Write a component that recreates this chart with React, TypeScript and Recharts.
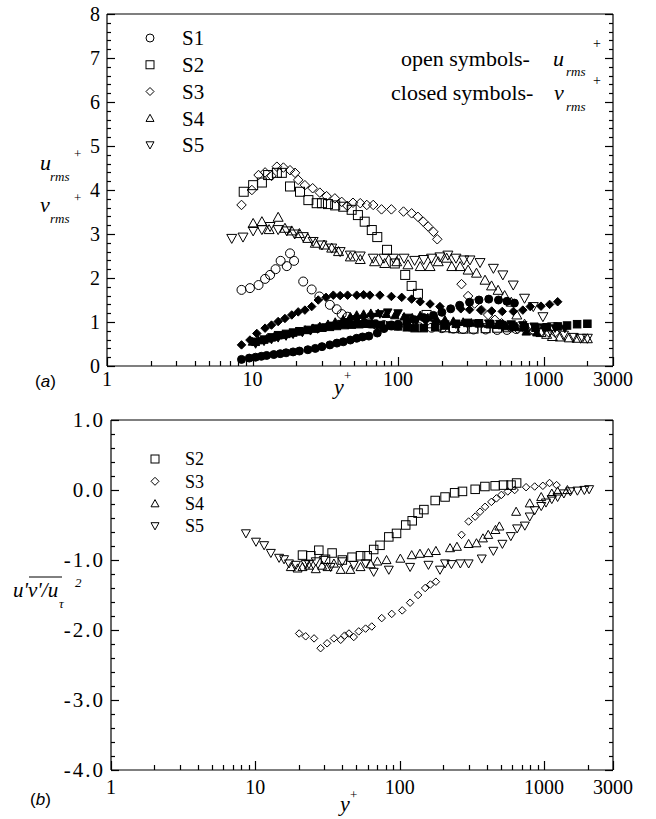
import React from 'react';
import { ScatterChart, Scatter, XAxis, YAxis, Legend } from 'recharts';

const SERIF = 'Liberation Serif, DejaVu Serif, serif';
const SANS = 'Liberation Sans, Arial, sans-serif';

// ---------- ticks ----------
const xMajorTicks = [1, 10, 100, 1000, 3000];
const xTickLabels = ['1', '10', '100', '1000', '3000'];
const xMinorTicks = [2, 3, 4, 5, 6, 7, 8, 9, 20, 30, 40, 50, 60, 70, 80, 90, 200, 300, 400, 500, 600, 700, 800, 900, 2000];
const xAllTicks = [...xMajorTicks, ...xMinorTicks].sort((a, b) => a - b);

const yMajorTicksA = [0, 1, 2, 3, 4, 5, 6, 7, 8];
const yTickLabelsA = ['0', '1', '2', '3', '4', '5', '6', '7', '8'];
const yMajorTicksB = [-4, -3, -2, -1, 0, 1];
const yTickLabelsB = ['-4.0', '-3.0', '-2.0', '-1.0', '0.0', '1.0'];

const withMinor = (majors: number[], steps: number) => {
  const out: number[] = [];
  for (let i = 0; i < majors.length; i++) {
    out.push(majors[i]);
    if (i < majors.length - 1) {
      for (let k = 1; k < steps; k++) out.push(+(majors[i] + (k * (majors[i + 1] - majors[i])) / steps).toFixed(4));
    }
  }
  return out;
};
const yAllTicksA = withMinor(yMajorTicksA, 5);
const yAllTicksB = withMinor(yMajorTicksB, 5);

// ---------- panel (a) data: [y+, value] ----------
const s1U = [[8.4,1.73],[9.6,1.77],[11,1.84],[12.2,1.98],[13.2,2.07],[14.4,2.2],[15.6,2.39],[17.2,2.27],[18.1,2.56],[19.3,2.39],[22.3,1.92],[25.5,1.74],[28.8,1.58],[34,1.39],[37.9,1.29],[41,1.18],[45,1.12],[50,1.05],[56,1.0],[63,0.97],[70,0.95],[80,0.93],[90,0.92],[100,0.92],[120,0.9],[140,0.88],[170,0.87],[200,0.86],[240,0.85],[280,0.84],[330,0.83],[400,0.83],[480,0.82],[560,0.82],[650,0.84]];
const s1V = [[8.4,0.15],[9.5,0.18],[10.5,0.2],[11.5,0.22],[12.5,0.24],[14,0.26],[15.5,0.28],[17,0.3],[19,0.32],[21,0.34],[24,0.37],[27,0.4],[30,0.44],[34,0.48],[38,0.52],[42,0.55],[47,0.59],[52,0.63],[57,0.66],[63,0.68],[72,0.75],[80,0.85],[90,0.92],[100,0.95],[115,1.0],[130,1.05],[150,1.1],[175,1.15],[200,1.22],[230,1.3],[265,1.38],[310,1.45],[360,1.5],[420,1.52],[490,1.5],[560,1.47],[630,1.43]];
const s2U = [[8.7,3.96],[10.1,4.11],[11.6,4.17],[12.8,4.34],[14.7,4.39],[15.9,4.39],[18.1,4.08],[21.2,3.96],[24.2,3.77],[27.6,3.7],[30,3.7],[33,3.68],[37,3.65],[42,3.62],[48,3.55],[53,3.43],[59,3.28],[66,3.09],[72,2.93],[84,2.64],[95,2.33],[112,2.07],[124,1.82],[137,1.64],[157,1.16],[166,0.97],[185,0.92],[210,0.88],[240,0.86],[280,0.85],[330,0.85],[400,0.86],[480,0.87],[570,0.88]];
const s2V = [[10.5,0.55],[12,0.6],[13.5,0.65],[15,0.7],[17,0.73],[19,0.76],[21,0.79],[24,0.82],[27,0.85],[30,0.87],[34,0.89],[38,0.91],[43,0.93],[48,0.94],[54,0.95],[60,0.96],[68,0.95],[76,0.93],[88,0.92],[100,0.9],[115,0.88],[130,0.86],[150,0.86],[180,0.88],[210,0.92],[250,0.96],[300,0.98],[360,0.97],[430,0.95],[520,0.93],[620,0.9],[740,0.88],[880,0.87],[1050,0.88],[1250,0.9],[1450,0.92],[1700,0.95],[2000,0.96]];
const s3U = [[8.4,3.66],[9.9,4.0],[11,4.34],[12.2,4.4],[13.5,4.32],[14.7,4.53],[16.3,4.51],[18.1,4.45],[19.6,4.39],[20.6,4.23],[22.9,4.11],[25.9,4.04],[29,3.94],[32.3,3.86],[36.8,3.81],[41,3.73],[44.8,3.64],[49,3.71],[55,3.7],[61,3.66],[67.5,3.66],[77,3.56],[90,3.56],[109,3.51],[124,3.47],[137,3.39],[149,3.28],[161,3.17],[175,3.05],[186,2.88],[273,1.86],[303,1.59],[336,1.42],[375,1.27],[416,1.16],[463,1.05],[514,0.97],[583,0.89],[660,0.85],[750,0.82],[850,0.8],[960,0.78],[1080,0.77],[1200,0.76]];
const s3V = [[8.4,0.48],[9.6,0.59],[10.7,0.74],[12.2,0.86],[13.5,0.93],[15,1.01],[16.7,1.08],[18.6,1.16],[20.6,1.23],[22.9,1.27],[25.5,1.35],[28.3,1.5],[32,1.56],[35.9,1.61],[40,1.6],[45,1.61],[52,1.61],[58,1.62],[64,1.61],[75,1.61],[90,1.58],[106,1.56],[124,1.52],[142,1.46],[166,1.41],[194,1.35],[270,1.3],[310,1.28],[370,1.27],[440,1.25],[520,1.24],[620,1.24],[720,1.27],[810,1.35],[960,1.36],[1100,1.4],[1250,1.46]];
const s4U = [[10.1,3.24],[11.6,3.28],[13,3.1],[15,3.38],[16.7,3.13],[18.6,3.07],[21,3.01],[24,2.9],[27,2.79],[31,2.75],[35,2.68],[39,2.6],[47,2.48],[55,2.42],[69,2.37],[81,2.33],[98,2.37],[117,2.3],[142,2.26],[166,2.26],[189,2.37],[216,2.45],[234,2.26],[267,2.26],[303,2.18],[346,2.11],[396,1.95],[439,1.82],[487,1.72],[540,1.6],[600,1.45],[655,1.16],[740,0.95],[850,0.82],[960,0.76],[1050,0.72],[1150,0.67],[1300,0.66],[1500,0.64],[1700,0.63],[2000,0.62]];
const s4V = [[10,0.55],[11,0.58],[12.5,0.62],[14,0.66],[16,0.7],[18,0.74],[20,0.78],[23,0.82],[26,0.86],[29,0.9],[33,0.95],[37,1.0],[42,1.06],[47,1.12],[52,1.16],[58,1.18],[65,1.2],[73,1.2],[83,1.18],[95,1.15],[110,1.12],[125,1.1],[142,1.15],[160,1.1],[185,1.05],[210,1.05],[240,1.02],[280,1.0],[320,0.98],[370,0.97],[420,0.95],[480,0.93],[560,0.9],[650,0.88],[760,0.78],[900,0.76]];
const s5U = [[7.2,2.9],[8.6,2.93],[10.1,3.07],[11.6,3.1],[13.2,3.17],[15,3.1],[17.2,3.07],[19.5,3.0],[22.3,2.94],[26.1,2.83],[30,2.75],[35,2.68],[40,2.6],[47,2.52],[55,2.5],[67.5,2.45],[80,2.45],[93,2.45],[110,2.45],[130,2.4],[150,2.42],[170,2.45],[194,2.48],[220,2.52],[250,2.45],[283,2.41],[312,2.41],[366,2.35],[452,2.22],[525,2.07],[619,1.84],[740,1.54],[850,1.35],[990,1.12],[1150,0.89],[1370,0.7],[1600,0.65],[1800,0.63],[2000,0.63]];
const s5V = [[10.5,0.5],[12,0.56],[13.5,0.6],[15,0.64],[17,0.68],[19,0.72],[22,0.76],[25,0.8],[28,0.84],[32,0.88],[36,0.92],[41,0.96],[46,1.0],[52,1.04],[58,1.08],[66,1.12],[75,1.18],[85,1.22],[100,1.2],[115,1.1],[135,1.05],[155,1.0],[180,0.97],[210,0.95],[250,0.95],[300,0.96],[350,0.97],[420,0.97],[500,0.96],[600,0.95],[720,0.93],[860,0.9],[1000,0.88],[1200,0.86],[1400,0.85]];

// ---------- panel (b) data: [y+, u'v'/u_tau^2] ----------
const s2UV = [[21.2,-0.93],[24.2,-0.94],[27.5,-0.86],[30.6,-0.99],[34,-0.9],[40,-1.0],[46.7,-0.96],[53.5,-0.94],[59.5,-0.94],[66,-0.85],[73,-0.79],[84,-0.67],[95,-0.62],[110,-0.5],[122,-0.44],[134,-0.33],[147,-0.28],[176,-0.15],[206,-0.1],[240,-0.04],[272,-0.02],[333,0.01],[389,0.05],[458,0.06],[523,0.07],[590,0.07],[645,0.1]];
const s3UV = [[20.1,-2.05],[22.3,-2.09],[25.5,-2.12],[28.3,-2.26],[31.4,-2.19],[35,-2.12],[39,-2.14],[41.5,-2.08],[44.5,-2.05],[48,-2.1],[52,-2.02],[58,-1.98],[64,-1.95],[75,-1.83],[88,-1.77],[104,-1.72],[118,-1.61],[134,-1.5],[150,-1.4],[163,-1.35],[178,-1.31],[268,-0.64],[300,-0.45],[333,-0.38],[360,-0.31],[390,-0.24],[431,-0.17],[467,-0.12],[506,-0.07],[560,-0.02],[625,0.0],[750,0.04],[860,0.05],[980,0.06],[1090,0.1],[1220,0.07]];
const s4UV = [[17.6,-1.1],[19.6,-1.12],[21.2,-1.1],[23.5,-1.08],[26.2,-1.13],[29,-1.08],[31.6,-1.1],[35,-1.05],[39,-1.14],[45.5,-1.14],[53.5,-1.1],[63,-1.06],[70,-1.02],[81,-1.0],[101,-0.98],[121,-0.93],[138,-0.91],[158,-0.9],[178,-0.87],[223,-0.83],[249,-0.81],[300,-0.77],[340,-0.76],[377,-0.69],[410,-0.64],[460,-0.57],[490,-0.52],[640,-0.31],[795,-0.19],[955,-0.1],[1130,-0.05],[1240,-0.02],[1450,0.0]];
const s5UV = [[8.6,-0.62],[10.1,-0.74],[11.5,-0.79],[12.8,-0.9],[14.6,-0.97],[15.8,-0.99],[17.1,-1.05],[19.1,-1.07],[22.3,-1.06],[23.5,-1.06],[26.2,-1.02],[29.8,-1.0],[33.2,-1.1],[40,-1.02],[48,-1.07],[58,-1.05],[66,-1.17],[84,-1.14],[118,-1.1],[158,-1.07],[190,-1.14],[206,-1.05],[228,-1.06],[263,-1.05],[300,-1.05],[370,-0.98],[445,-0.87],[514,-0.77],[588,-0.66],[650,-0.55],[735,-0.51],[795,-0.38],[860,-0.29],[955,-0.23],[1030,-0.18],[1130,-0.13],[1240,-0.1],[1370,-0.05],[1520,-0.02],[1700,-0.01],[1900,0.0],[2050,0.01]];

const legendLabelsA = ['S1', 'S2', 'S3', 'S4', 'S5'];
const legendKindsA = ['circle', 'square', 'diamond', 'up', 'down'];
const legendLabelsB = ['S2', 'S3', 'S4', 'S5'];
const legendKindsB = ['square', 'diamond', 'up', 'down'];

const toPts = (arr: number[][]) => arr.map(([x, y]) => ({ x, y }));

// ---------- markers ----------
function Marker({ cx, cy, kind, filled, size }: any) {
  if (cx == null || cy == null) return null;
  const s = size / 2;
  const common = { fill: filled ? '#000' : 'none', stroke: '#000', strokeWidth: 1 };
  switch (kind) {
    case 'circle':
      return <circle cx={cx} cy={cy} r={s} {...common} />;
    case 'square':
      return <rect x={cx - s} y={cy - s} width={2 * s} height={2 * s} {...common} />;
    case 'diamond':
      return <polygon points={`${cx},${cy - s} ${cx + s},${cy} ${cx},${cy + s} ${cx - s},${cy}`} {...common} />;
    case 'up':
      return <polygon points={`${cx},${cy - s} ${cx + s},${cy + s * 0.8} ${cx - s},${cy + s * 0.8}`} {...common} />;
    default:
      return <polygon points={`${cx},${cy + s} ${cx + s},${cy - s * 0.8} ${cx - s},${cy - s * 0.8}`} {...common} />;
  }
}
const shape = (kind: string, filled: boolean, size: number) => (p: any) => (
  <Marker cx={p.cx} cy={p.cy} kind={kind} filled={filled} size={size} />
);

// ---------- ticks ----------
const MAJOR = 9;
const MINOR = 5;
const findIdx = (arr: number[], v: number) => arr.findIndex((m) => Math.abs(m - v) < 1e-6);
const serifStyle = (size: number, italic = false, ls = 0) => ({ fontFamily: SERIF, fontSize: size, fontStyle: italic ? 'italic' : 'normal', letterSpacing: ls });

const makeXTick = (side: 'bottom' | 'top', labels: string[] | null, labelDy: number) => (props: any) => {
  const { x, y, payload } = props;
  const idx = findIdx(xMajorTicks, payload.value);
  const major = idx >= 0;
  const dir = side === 'bottom' ? -1 : 1;
  const xx = Math.round(x) + 0.5;
  return (
    <g>
      <path d={`M${xx},${y}L${xx},${y + dir * (major ? MAJOR : MINOR)}`} stroke="#000" strokeWidth={1.2} fill="none" />
      {labels && major ? (
        <text x={x} y={y + labelDy} textAnchor="middle" style={serifStyle(20)} fill="#000">
          {labels[idx]}
        </text>
      ) : null}
    </g>
  );
};

const makeYTick = (side: 'left' | 'right', majors: number[], labels: string[] | null, fs: number, ls: number, gap: number) => (props: any) => {
  const { x, y, payload } = props;
  const idx = findIdx(majors, payload.value);
  const major = idx >= 0;
  const dir = side === 'left' ? 1 : -1;
  const yy = Math.round(y) + 0.5;
  return (
    <g>
      <path d={`M${x},${yy}L${x + dir * (major ? MAJOR - 1 : MINOR - 1)},${yy}`} stroke="#000" strokeWidth={1.2} fill="none" />
      {labels && major ? (
        <text x={x - gap} y={y} dy="0.35em" textAnchor="end" style={serifStyle(fs, false, ls)} fill="#000">
          {labels[idx]}
        </text>
      ) : null}
    </g>
  );
};

// ---------- legends ----------
const LegendBox = ({ labels, kinds, x0, y0, step, textDx, fs, ms, w, h }: any) => (
  <svg width={w} height={h} style={{ display: 'block', overflow: 'visible' }}>
    {labels.map((lab: string, i: number) => (
      <g key={lab}>
        <Marker cx={x0} cy={y0 + i * step} kind={kinds[i]} filled={false} size={ms} />
        <text x={x0 + textDx} y={y0 + i * step} dy="0.35em" style={serifStyle(fs)} fill="#000">
          {lab}
        </text>
      </g>
    ))}
  </svg>
);

const axisLine = { stroke: '#000', strokeWidth: 1.2 };
const T = (props: any) => <text fill="#000" {...props} />;

export default function App() {
  return (
    <div style={{ position: 'absolute', left: 0, top: 0, width: 656, height: 819, background: '#fff' }}>
      {/* Panel (a) */}
      <div style={{ position: 'absolute', left: 0, top: 0 }}>
        <ScatterChart width={656} height={400} margin={{ top: 4, right: 33, bottom: 4, left: 67 }}>
          <XAxis xAxisId="b" dataKey="x" type="number" scale="log" domain={[1, 3000]} allowDataOverflow ticks={xAllTicks} interval={0}
            height={30} tickSize={0} tickMargin={0} tickLine={false} axisLine={axisLine} tick={makeXTick('bottom', xTickLabels, 20)} />
          <XAxis xAxisId="t" orientation="top" type="number" scale="log" domain={[1, 3000]} allowDataOverflow ticks={xAllTicks} interval={0}
            height={10} tickSize={0} tickMargin={0} tickLine={false} axisLine={axisLine} tick={makeXTick('top', null, 0)} />
          <YAxis yAxisId="l" dataKey="y" type="number" domain={[0, 8]} allowDataOverflow ticks={yAllTicksA} interval={0}
            width={40} tickSize={0} tickMargin={0} tickLine={false} axisLine={axisLine} tick={makeYTick('left', yMajorTicksA, yTickLabelsA, 20, 0, 7)} />
          <YAxis yAxisId="r" orientation="right" type="number" domain={[0, 8]} allowDataOverflow ticks={yAllTicksA} interval={0}
            width={10} tickSize={0} tickMargin={0} tickLine={false} axisLine={axisLine} tick={makeYTick('right', yMajorTicksA, null, 20, 0, 7)} />

          <Scatter name="S1 u+rms" xAxisId="b" yAxisId="l" data={toPts(s1U)} shape={shape('circle', false, 9)} isAnimationActive={false} />
          <Scatter name="S2 u+rms" xAxisId="b" yAxisId="l" data={toPts(s2U)} shape={shape('square', false, 9)} isAnimationActive={false} />
          <Scatter name="S3 u+rms" xAxisId="b" yAxisId="l" data={toPts(s3U)} shape={shape('diamond', false, 9.5)} isAnimationActive={false} />
          <Scatter name="S4 u+rms" xAxisId="b" yAxisId="l" data={toPts(s4U)} shape={shape('up', false, 10)} isAnimationActive={false} />
          <Scatter name="S5 u+rms" xAxisId="b" yAxisId="l" data={toPts(s5U)} shape={shape('down', false, 10)} isAnimationActive={false} />
          <Scatter name="S1 v+rms" xAxisId="b" yAxisId="l" data={toPts(s1V)} shape={shape('circle', true, 8)} isAnimationActive={false} />
          <Scatter name="S2 v+rms" xAxisId="b" yAxisId="l" data={toPts(s2V)} shape={shape('square', true, 7.5)} isAnimationActive={false} />
          <Scatter name="S3 v+rms" xAxisId="b" yAxisId="l" data={toPts(s3V)} shape={shape('diamond', true, 8.5)} isAnimationActive={false} />
          <Scatter name="S4 v+rms" xAxisId="b" yAxisId="l" data={toPts(s4V)} shape={shape('up', true, 8.5)} isAnimationActive={false} />
          <Scatter name="S5 v+rms" xAxisId="b" yAxisId="l" data={toPts(s5V)} shape={shape('down', true, 8.5)} isAnimationActive={false} />

          <Legend layout="horizontal" verticalAlign="middle" align="center"
            wrapperStyle={{ position: 'absolute', left: 135, top: 24, width: 90, height: 140 }}
            content={() => <LegendBox labels={legendLabelsA} kinds={legendKindsA} x0={15} y0={14} step={26.75} textDx={32} fs={21} ms={8} w={90} h={140} />} />

          {/* annotation */}
          <T x={401} y={66} style={serifStyle(22)}>open symbols-</T>
          <T x={553} y={66} style={serifStyle(22, true)}>u</T>
          <T x={566} y={76} style={serifStyle(13, true)}>rms</T>
          <T x={593} y={48} style={serifStyle(14)}>+</T>
          <T x={391} y={100} style={serifStyle(22)}>closed symbols-</T>
          <T x={554} y={100} style={serifStyle(22, true)}>v</T>
          <T x={566} y={111} style={serifStyle(13, true)}>rms</T>
          <T x={593} y={85} style={serifStyle(14)}>+</T>

          {/* y label */}
          <T x={40} y={170} style={serifStyle(22, true)}>u</T>
          <T x={50} y={181} style={serifStyle(13, true)}>rms</T>
          <T x={74} y={158} style={serifStyle(13)}>+</T>
          <T x={40} y={212} style={serifStyle(22, true)}>v</T>
          <T x={50} y={223} style={serifStyle(13, true)}>rms</T>
          <T x={74} y={202} style={serifStyle(13)}>+</T>

          {/* x label */}
          <T x={334} y={394} style={serifStyle(22, true)}>y</T>
          <T x={344} y={380} style={serifStyle(13)}>+</T>
          <T x={35} y={387} style={{ fontFamily: SANS, fontSize: 17 }}>(<tspan fontStyle="italic">a</tspan>)</T>
        </ScatterChart>
      </div>

      {/* Panel (b) */}
      <div style={{ position: 'absolute', left: 0, top: 400 }}>
        <ScatterChart width={656} height={419} margin={{ top: 10, right: 33, bottom: 19, left: 71 }}>
          <XAxis xAxisId="b" dataKey="x" type="number" scale="log" domain={[1, 3000]} allowDataOverflow ticks={xAllTicks} interval={0}
            height={30} tickSize={0} tickMargin={0} tickLine={false} axisLine={axisLine} tick={makeXTick('bottom', xTickLabels, 24)} />
          <XAxis xAxisId="t" orientation="top" type="number" scale="log" domain={[1, 3000]} allowDataOverflow ticks={xAllTicks} interval={0}
            height={10} tickSize={0} tickMargin={0} tickLine={false} axisLine={axisLine} tick={makeXTick('top', null, 0)} />
          <YAxis yAxisId="l" dataKey="y" type="number" domain={[-4, 1]} allowDataOverflow ticks={yAllTicksB} interval={0}
            width={40} tickSize={0} tickMargin={0} tickLine={false} axisLine={axisLine} tick={makeYTick('left', yMajorTicksB, yTickLabelsB, 21, 2, 6)} />
          <YAxis yAxisId="r" orientation="right" type="number" domain={[-4, 1]} allowDataOverflow ticks={yAllTicksB} interval={0}
            width={10} tickSize={0} tickMargin={0} tickLine={false} axisLine={axisLine} tick={makeYTick('right', yMajorTicksB, null, 21, 0, 6)} />

          <Scatter name="S2" xAxisId="b" yAxisId="l" data={toPts(s2UV)} shape={shape('square', false, 8.5)} isAnimationActive={false} />
          <Scatter name="S3" xAxisId="b" yAxisId="l" data={toPts(s3UV)} shape={shape('diamond', false, 7.5)} isAnimationActive={false} />
          <Scatter name="S4" xAxisId="b" yAxisId="l" data={toPts(s4UV)} shape={shape('up', false, 9)} isAnimationActive={false} />
          <Scatter name="S5" xAxisId="b" yAxisId="l" data={toPts(s5UV)} shape={shape('down', false, 9)} isAnimationActive={false} />

          <Legend layout="horizontal" verticalAlign="middle" align="center"
            wrapperStyle={{ position: 'absolute', left: 140, top: 48, width: 80, height: 100 }}
            content={() => <LegendBox labels={legendLabelsB} kinds={legendKindsB} x0={15} y0={11} step={22.3} textDx={30} fs={18} ms={8} w={80} h={100} />} />

          {/* y label */}
          <T x={13} y={197} style={serifStyle(21, true)}>u'v'/u</T>
          <line x1={29} y1={177} x2={62} y2={177} stroke="#000" strokeWidth={1} />
          <T x={59} y={208} style={serifStyle(13, true)}>τ</T>
          <T x={75} y={187} style={serifStyle(13, true)}>2</T>

          {/* x label */}
          <T x={340} y={411} style={serifStyle(22, true)}>y</T>
          <T x={350} y={399} style={serifStyle(13)}>+</T>
          <T x={30} y={405} style={{ fontFamily: SANS, fontSize: 17 }}>(<tspan fontStyle="italic">b</tspan>)</T>
        </ScatterChart>
      </div>
    </div>
  );
}
